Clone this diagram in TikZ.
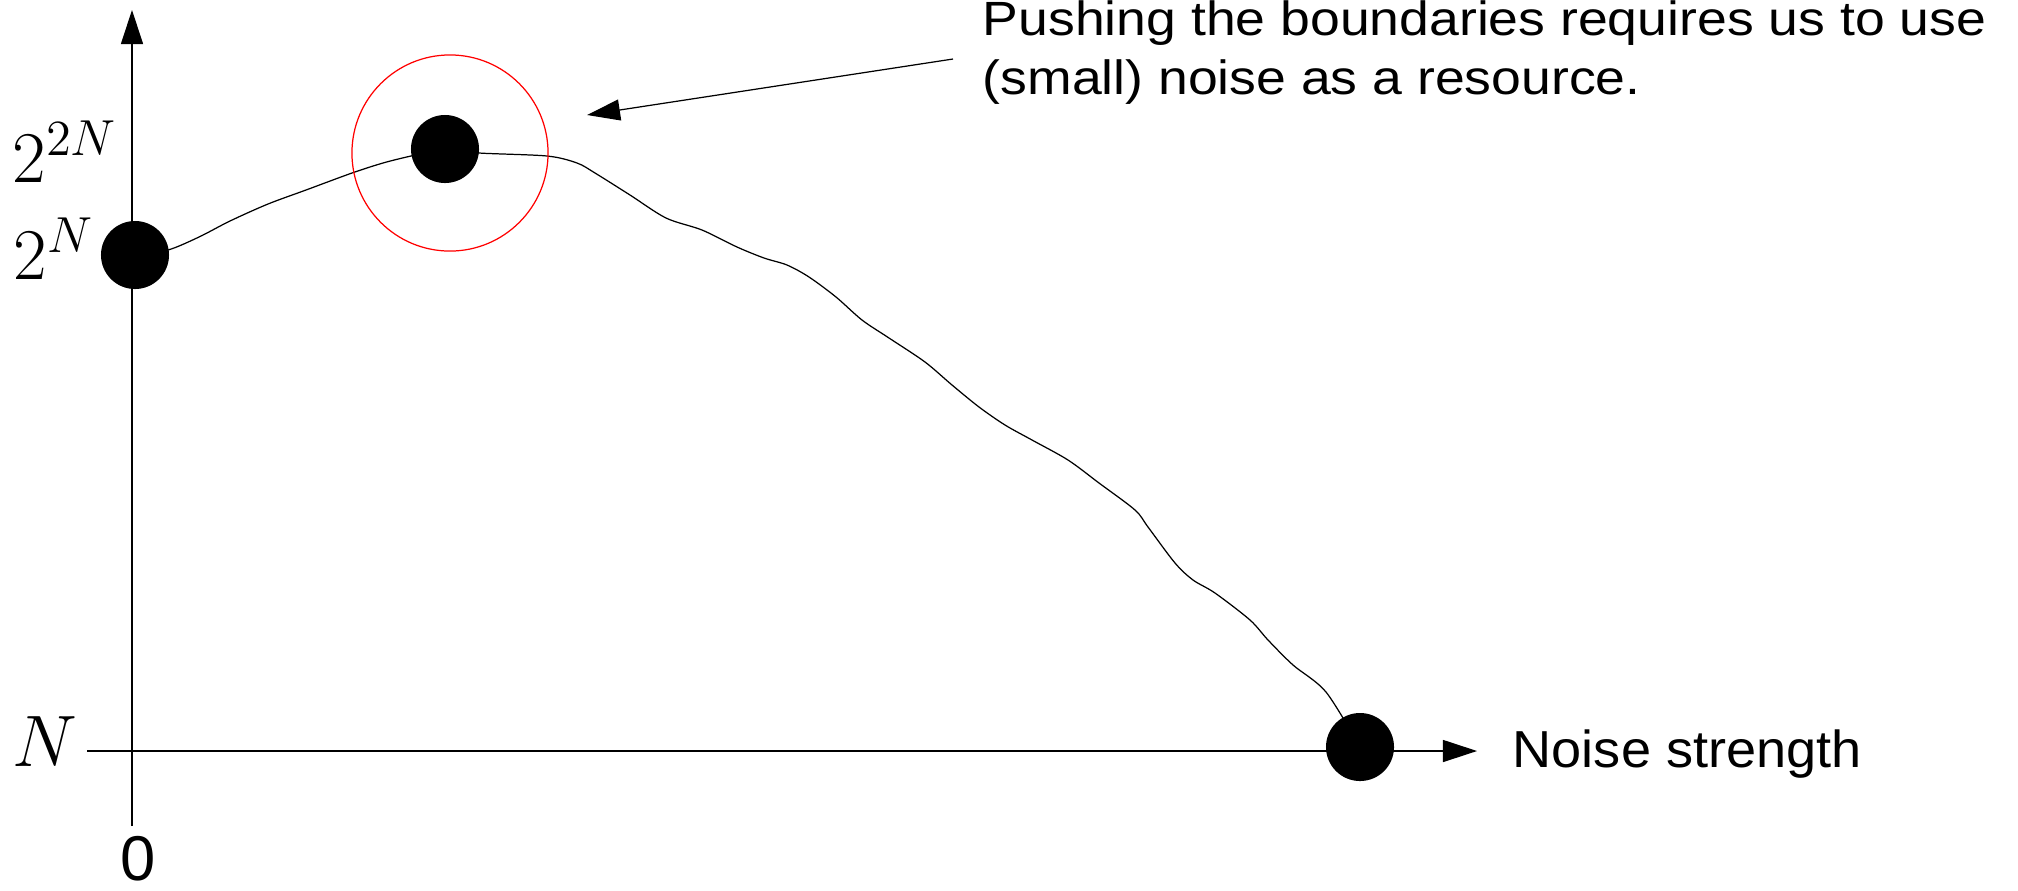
\documentclass[tikz,border=0pt]{standalone}
\usepackage[no-math]{fontspec}
\newfontfamily\arial{Liberation Sans}
\usetikzlibrary{arrows.meta}
\pgfdeclarelayer{bg}
\pgfsetlayers{bg,main}

\begin{document}
\begin{tikzpicture}[x=0.01cm, y=-0.01cm,
  thinline/.style={line width=0.35pt},
  axis/.style={thinline, -{Triangle[length=0.34cm,width=0.22cm]}},
  pointer/.style={thinline, -{Triangle[length=0.33cm,width=0.21cm]}},
  dot/.style={circle, fill=black, inner sep=0pt, minimum size=0.68cm},
  halo/.style={circle, draw=red, line width=0.35pt, inner sep=0pt, minimum size=1.96cm},
  mathlabel/.style={anchor=base west, inner sep=0pt, font=\fontsize{20.5}{24}\selectfont},
  sanslabel/.style={anchor=base west, inner sep=0pt, xscale=1.04, font=\arial\fontsize{14.8}{17}\selectfont},
  note/.style={anchor=base west, inner sep=0pt, align=left, xscale=1.115,
    font=\arial\fontsize{13.66}{16.5}\selectfont}]
  \useasboundingbox (0,0) rectangle (2018,890);

  % axes
  \coordinate (ybot) at (132,826);
  \coordinate (ytop) at (132,10);
  \coordinate (xleft) at (87,751);
  \coordinate (xright) at (1477,751);
  \draw[axis] (ybot) -- (ytop);
  \draw[axis] (xleft) -- (xright);

  % axis labels
  \node[mathlabel] (l2n2) at (12,182) {$2^{2N}$};
  \node[mathlabel] (l2n) at (13,279) {$2^{N}$};
  \node[mathlabel] (ln) at (12,766) {$N$};
  \node[anchor=base, inner sep=0pt, font=\arial\fontsize{18}{21}\selectfont] (lzero) at (138,880) {0};
  \node[sanslabel] (lnoise) at (1512,767) {Noise strength};

  % data points
  \node[dot] (d0) at (135,255) {};
  \node[dot] (dpeak) at (445,149) {};
  \node[dot] (dend) at (1360,747) {};
  \node[halo] (ring) at (450,153) {};

  % the curve joining the points
  \begin{pgfonlayer}{bg}
    \draw[thinline] plot[smooth, tension=0.5] coordinates {(d0.center) (168,250) (199,237) (230,221) (268,204) (306,190) (352,173) (383,163) (411,156) (dpeak.center)};
    \draw[thinline] plot[smooth, tension=0.5] coordinates {(dpeak.center) (479,153) (547,156) (577,163) (595,173) (630,195) (666,218) (702,230) (737,247) (764,258) (787,265) (809,277) (836,297) (862,320) (889,338) (925,362) (952,385) (979,407) (1005,425) (1032,440) (1068,460) (1099,483) (1135,510) (1148,527) (1175,563) (1193,580) (1215,593) (1250,620) (1268,640) (1293,665) (1326,692) (dend.center)};
  \end{pgfonlayer}

  % annotation (base anchor sits on the last line)
  \node[note] (msg) at (982,94) {Pushing the boundaries requires us to use\\(small) noise as a resource.};
  \coordinate (msgtail) at (953,59);
  \coordinate (msghead) at (587,115);
  \draw[pointer] (msgtail) -- (msghead);
\end{tikzpicture}
\end{document}
